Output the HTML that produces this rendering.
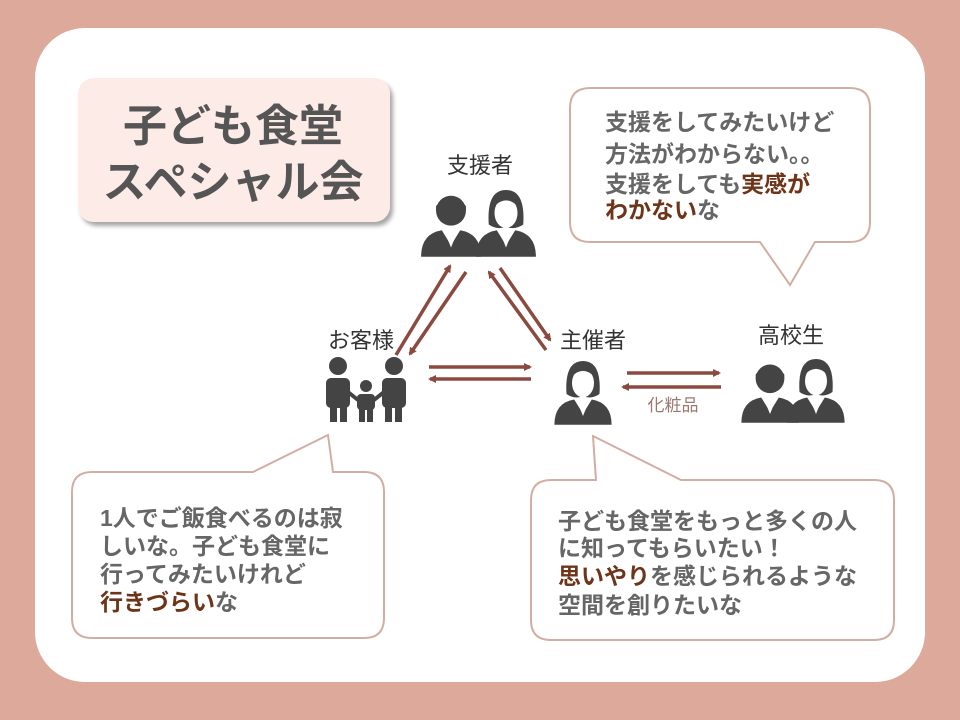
<!DOCTYPE html>
<html><head><meta charset="utf-8"><style>
html,body{margin:0;padding:0;width:960px;height:720px;overflow:hidden;background:#dca99b}
svg{display:block}
text{font-family:"Liberation Sans","Noto Sans CJK JP",sans-serif}
</style></head><body>
<svg width="960" height="720" viewBox="0 0 960 720">
<defs>
<marker id="ah" markerWidth="8" markerHeight="8" refX="6" refY="4" orient="auto" markerUnits="userSpaceOnUse"><path d="M0,0 L8,4 L0,8 Z" fill="#8b4a40"/></marker>
<filter id="sh" x="-10%" y="-10%" width="130%" height="130%"><feDropShadow dx="3" dy="4" stdDeviation="2" flood-color="#000" flood-opacity="0.35"/></filter>
<g id="man"><circle cx="0" cy="-22" r="13" fill="#444"/><path d="M-13,-26 Q0,-42 13,-26 L13,-22 Q0,-30 -13,-22Z" fill="#444"/><path d="M-26,18 Q-26,-2 -8,-5 L0,8 L8,-5 Q26,-2 26,18Z" fill="#444"/><path d="M-6,-5 L0,10 L6,-5Z" fill="#fff"/></g>
<g id="woman"><path d="M-15,-10 Q-17,-40 0,-40 Q17,-40 15,-10 Q8,-5 0,-8 Q-8,-5 -15,-10Z" fill="#444"/><ellipse cx="0" cy="-20" rx="10" ry="13" fill="#fff"/><path d="M-10,-26 Q0,-36 10,-26 L10,-32 Q0,-40 -10,-32Z" fill="#444"/><path d="M-26,18 Q-26,-2 -8,-5 L0,8 L8,-5 Q26,-2 26,18Z" fill="#444"/><path d="M-6,-5 L0,10 L6,-5Z" fill="#fff"/></g>
</defs>
<rect x="35" y="28" width="890" height="654" rx="50" fill="#fff"/>
<rect x="78" y="78" width="312" height="144" rx="16" fill="#fcebe7" filter="url(#sh)"/>
<text x="233" y="141" text-anchor="middle" font-size="44" font-weight="bold" fill="#555">子ども食堂</text>
<text x="233" y="197" text-anchor="middle" font-size="44" font-weight="bold" fill="#555">スペシャル会</text>

<path d="M590,88 H850 Q870,88 870,108 V222 Q870,242 850,242 H815 L790,285 L760,242 H590 Q570,242 570,222 V108 Q570,88 590,88Z" fill="#fff" stroke="#d2aea2" stroke-width="2"/>
<g font-size="23" font-weight="bold" fill="#666">
<text x="605" y="130">支援をしてみたいけど</text>
<text x="605" y="162">方法がわからない。。</text>
<text x="605" y="192">支援をしても<tspan fill="#6e3418">実感が</tspan></text>
<text x="605" y="218"><tspan fill="#6e3418">わかない</tspan>な</text>
</g>

<path d="M92,472 H253 L328,435 L333,472 H364 Q384,472 384,492 V618 Q384,638 364,638 H92 Q72,638 72,618 V492 Q72,472 92,472Z" fill="#fff" stroke="#d2aea2" stroke-width="2"/>
<g font-size="23" font-weight="bold" fill="#666">
<text x="100" y="526">1人でご飯食べるのは寂</text>
<text x="100" y="554">しいな。子ども食堂に</text>
<text x="100" y="582">行ってみたいけれど</text>
<text x="100" y="610"><tspan fill="#6e3418">行きづらい</tspan>な</text>
</g>

<path d="M551,480 H596 L593,436 L681,480 H874 Q894,480 894,500 V620 Q894,640 874,640 H551 Q531,640 531,620 V500 Q531,480 551,480Z" fill="#fff" stroke="#d2aea2" stroke-width="2"/>
<g font-size="23" font-weight="bold" fill="#666">
<text x="558" y="529">子ども食堂をもっと多くの人</text>
<text x="558" y="556">に知ってもらいたい！</text>
<text x="558" y="584"><tspan fill="#6e3418">思いやり</tspan>を感じられるような</text>
<text x="558" y="613">空間を創りたいな</text>
</g>

<g font-size="22" fill="#333" text-anchor="middle">
<text x="480" y="173">支援者</text>
<text x="361" y="348">お客様</text>
<text x="593" y="348">主催者</text>
<text x="791" y="343">高校生</text>
</g>
<text x="673" y="411" font-size="17" fill="#9a7a70" text-anchor="middle">化粧品</text>

<g stroke="#8b4a40" stroke-width="3.5" marker-end="url(#ah)">
<line x1="396" y1="355" x2="450" y2="266"/>
<line x1="466" y1="272" x2="410" y2="354"/>
<line x1="500" y1="268" x2="550" y2="340"/>
<line x1="546" y1="350" x2="489" y2="272"/>
<line x1="429" y1="367" x2="530" y2="367"/>
<line x1="531" y1="379" x2="430" y2="379"/>
<line x1="627" y1="373" x2="719" y2="373"/>
<line x1="721" y1="387" x2="623" y2="387"/>
</g>

<g transform="translate(451,236) scale(1.15)"><use href="#man"/></g>
<g transform="translate(506,236) scale(1.15)"><use href="#woman"/></g>
<g fill="#444">
<circle cx="338" cy="366" r="9"/><rect x="326" y="378" width="24" height="30" rx="5"/><rect x="330" y="400" width="7" height="22"/><rect x="340" y="400" width="7" height="22"/>
<circle cx="394" cy="366" r="9"/><rect x="382" y="378" width="24" height="30" rx="5"/><rect x="385" y="400" width="7" height="22"/><rect x="395" y="400" width="7" height="22"/>
<circle cx="366" cy="386" r="6"/><rect x="357" y="394" width="18" height="16" rx="4"/><rect x="359" y="406" width="6" height="16"/><rect x="367" y="406" width="6" height="16"/>
<path d="M348,392 L358,400 M384,392 L374,400" stroke="#444" stroke-width="4"/>
</g>
<g transform="translate(583,405) scale(1.1)"><use href="#woman"/></g>
<g transform="translate(770,403) scale(1.1)"><use href="#man"/></g>
<g transform="translate(816,403) scale(1.1)"><use href="#woman"/></g>
</svg>
</body></html>
